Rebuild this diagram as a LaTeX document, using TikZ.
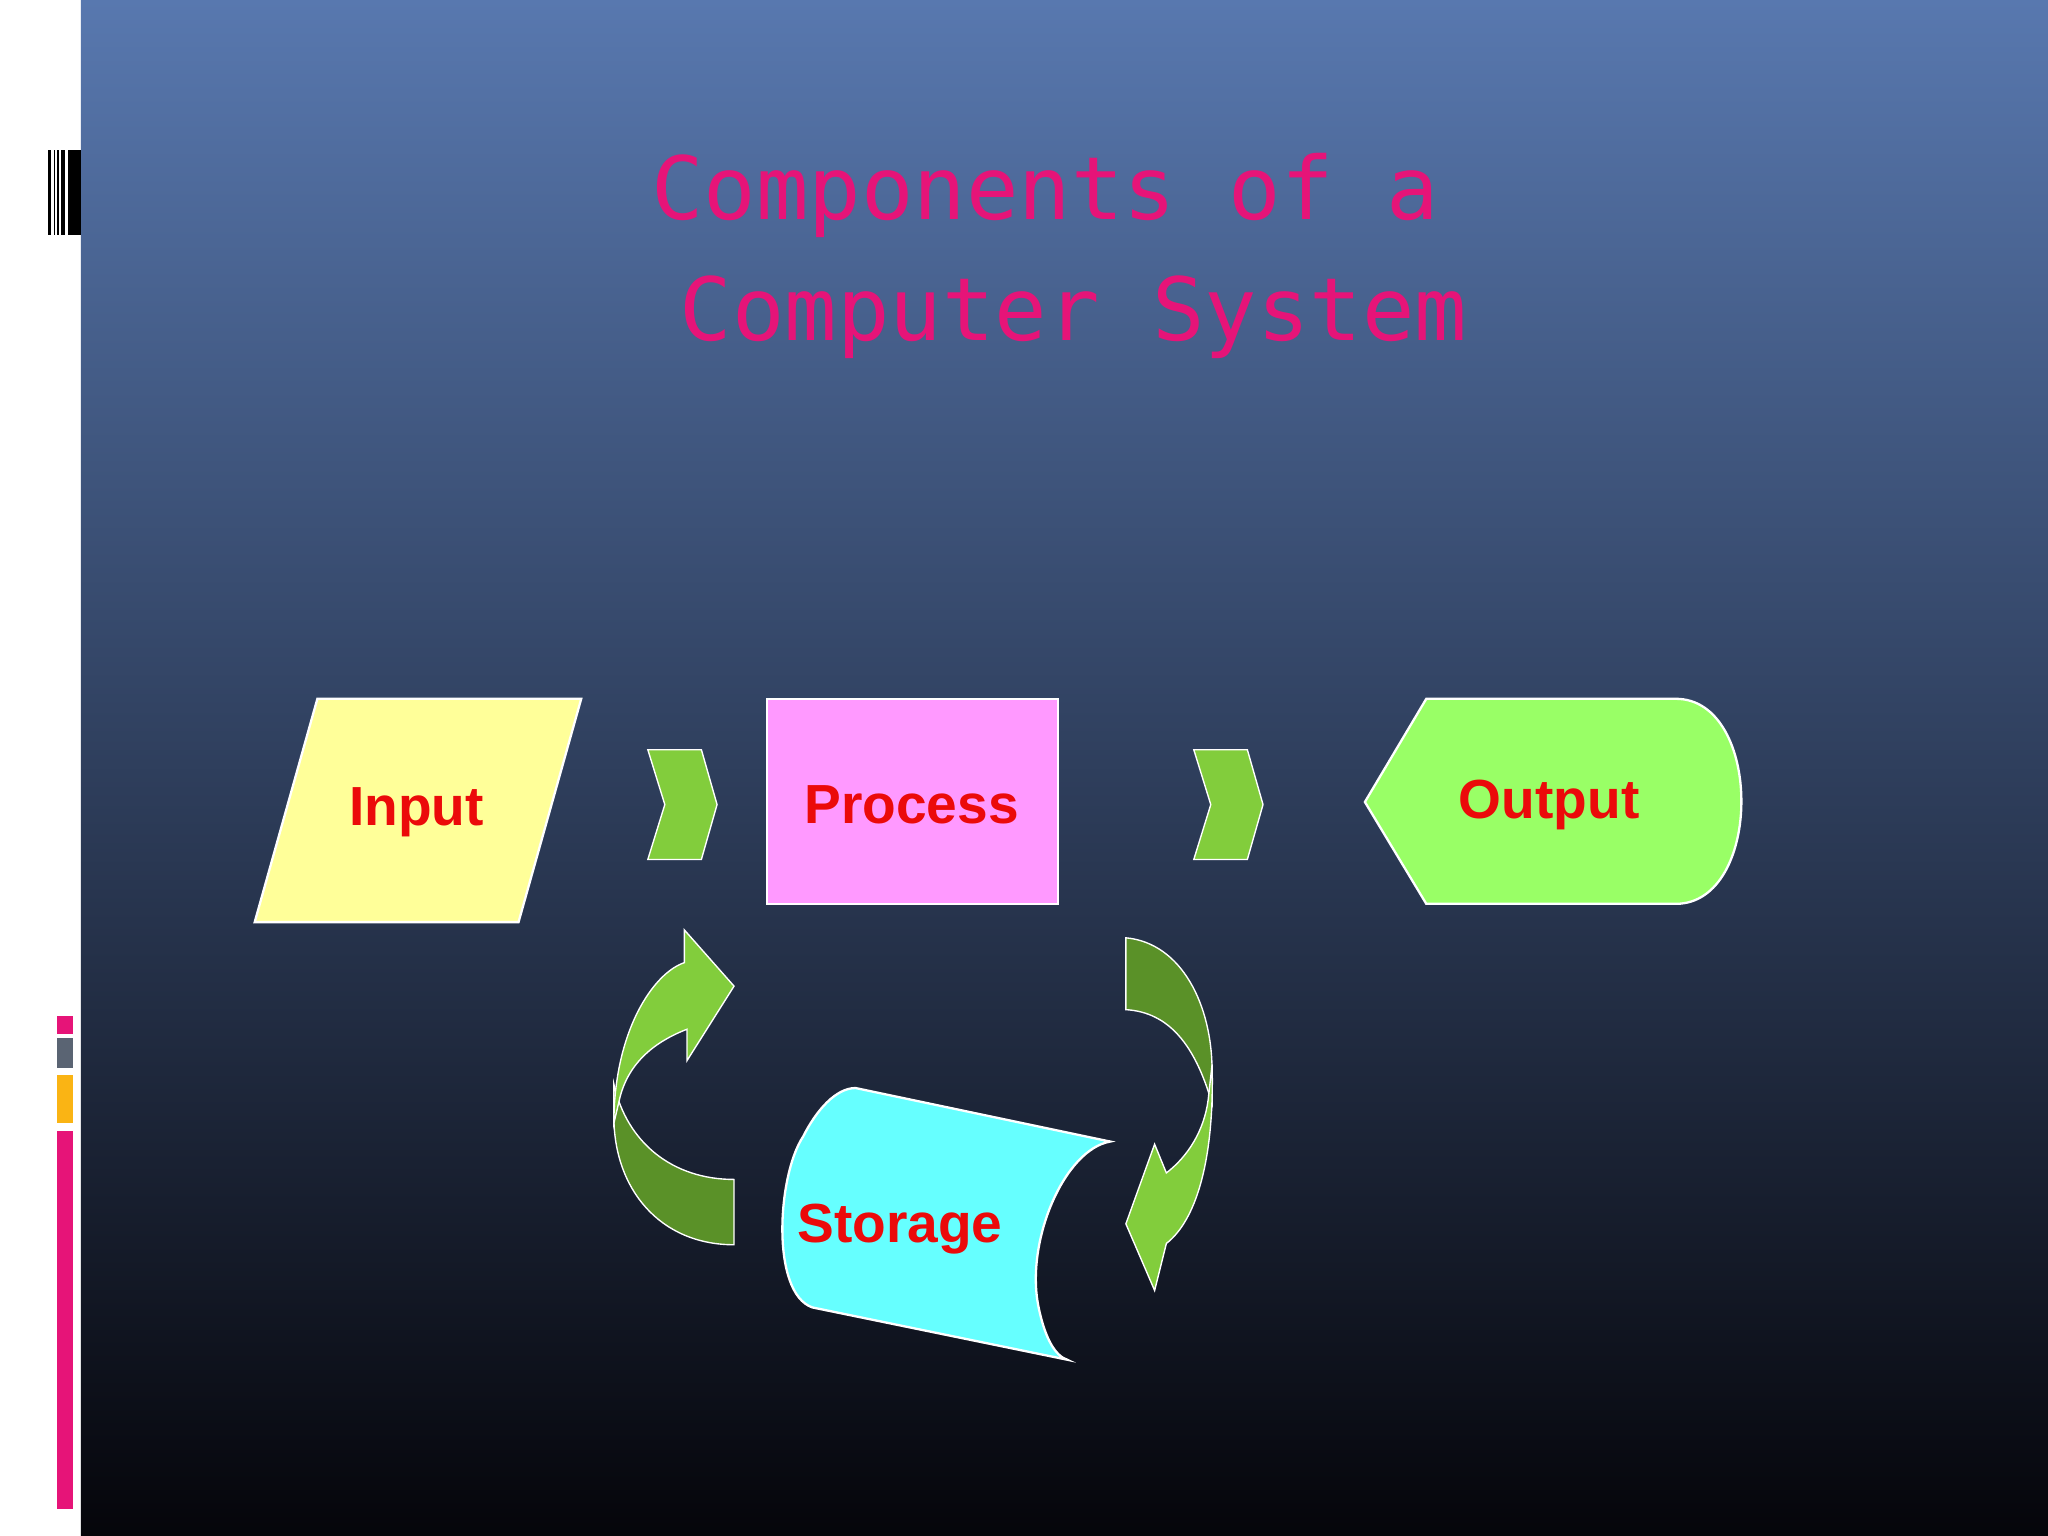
\documentclass[tikz,border=0pt]{standalone}
\usepackage{fontspec}
\setmainfont{Liberation Sans}
\newfontfamily\titlefont{DejaVu Sans Mono}
\definecolor{bgtop}{RGB}{88,120,175}
\definecolor{bgbot}{RGB}{5,5,10}
\definecolor{titlepink}{RGB}{230,20,120}
\definecolor{inyel}{RGB}{255,255,153}
\definecolor{procpink}{RGB}{255,153,255}
\definecolor{outgreen}{RGB}{153,255,102}
\definecolor{storcyan}{RGB}{102,255,255}
\definecolor{lgreen}{RGB}{130,205,60}
\definecolor{dgreen}{RGB}{90,145,40}
\definecolor{lblred}{RGB}{235,10,10}
\definecolor{bargray}{RGB}{90,100,115}
\definecolor{barorange}{RGB}{250,180,20}
\tikzset{
  shapebox/.style={draw=white, line width=0.5pt},
  lbl/.style={text=lblred, font=\fontsize{12}{14}\selectfont\bfseries},
  arr/.style={draw=white, line width=0.3pt}
}
\begin{document}
\begin{tikzpicture}[x=0.1mm,y=-0.1mm]
\useasboundingbox (0,0) rectangle (1568,1176);
\fill[white] (0,0) rectangle (62,1176);
\shade[top color=bgtop, bottom color=bgbot] (62,0) rectangle (1568,1176);
% barcode
\foreach \a/\b in {37/39,41/42,44/45,47/50,52/62}
  \fill[black] (\a,115) rectangle (\b,180);
% side bars
\fill[titlepink] (44,778) rectangle (56,792);
\fill[bargray] (44,795) rectangle (56,818);
\fill[barorange] (44,823) rectangle (56,860);
\fill[titlepink] (44,866) rectangle (56,1155);
% title
\node[text=titlepink, font=\titlefont\fontsize{19}{22}\selectfont] (t1) at (800,150) {Components of a};
\node[text=titlepink, font=\titlefont\fontsize{19}{22}\selectfont] (t2) at (822,243) {Computer System};
% input
\filldraw[shapebox, fill=inyel] (243,535) -- (445,535) -- (397,706) -- (195,706) -- cycle;
\node[lbl] (input) at (319,622) {Input};
% chevrons
\foreach \dx in {0,418}
  \filldraw[arr, fill=lgreen, shift={(\dx,0)}] (496,574) -- (537,574) -- (549,616) -- (537,658) -- (496,658) -- (509,616) -- cycle;
% process
\filldraw[shapebox, fill=procpink] (587,535) rectangle (810,692);
\node[lbl] (process) at (698,616) {Process};
% output
\filldraw[shapebox, fill=outgreen] (1092,535) -- (1283,535) .. controls (1350,535) and (1350,692) .. (1283,692) -- (1092,692) -- (1045,614) -- cycle;
\node[lbl] (output) at (1186,616) {Output};
% storage
\filldraw[shapebox, fill=storcyan] (655,833) -- (850,874) .. controls (815,880) and (785,950) .. (795,1000) .. controls (800,1025) and (808,1038) .. (817,1041) -- (622,1001) .. controls (590,990) and (595,900) .. (615,870) .. controls (625,850) and (640,833) .. (655,833) -- cycle;
\draw[white, line width=0.5pt] (850,874) -- (845,874);
\node[lbl] (storage) at (689,941) {Storage};
% left circular arrow
\filldraw[arr, fill=dgreen] (562,903) -- (562,953) .. controls (505,953) and (470,910) .. (470,855) -- (470,830) .. controls (480,875) and (515,903) .. (562,903) -- cycle;
\filldraw[arr, fill=lgreen] (470,860) .. controls (470,790) and (500,745) .. (524,737) -- (524,712) -- (562,755) -- (526,812) -- (526,788) .. controls (500,798) and (480,815) .. (474,843) -- cycle;
% right circular arrow
\filldraw[arr, fill=dgreen] (862,718) .. controls (905,722) and (928,770) .. (928,820) -- (928,845) .. controls (915,800) and (895,775) .. (862,773) -- cycle;
\filldraw[arr, fill=lgreen] (928,815) .. controls (930,890) and (915,935) .. (893,952) -- (884,988) -- (862,937) -- (884,876) -- (893,898) .. controls (910,885) and (922,865) .. (925,842) -- cycle;
\end{tikzpicture}
\end{document}
